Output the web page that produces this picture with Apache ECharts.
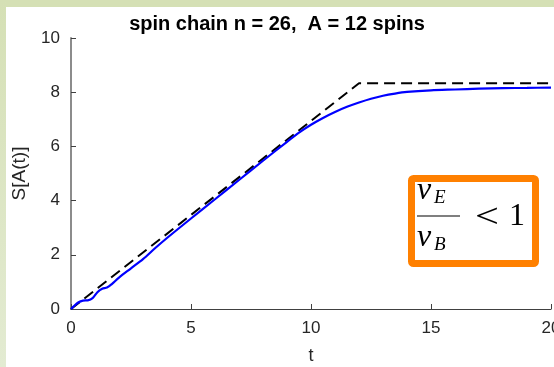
<!DOCTYPE html>
<html>
<head>
<meta charset="utf-8">
<script src="https://cdn.jsdelivr.net/npm/echarts@6/dist/echarts.min.js"></script>
<style>
  html, body { margin: 0; padding: 0; background: #ffffff; }
  #chart { width: 554px; height: 367px; }
</style>
</head>
<body>
<div id="chart"></div>
<script>
// Entanglement growth S[A(t)] for a spin chain, n = 26, subsystem A = 12 spins
const titleText = 'spin chain n = 26,  A = 12 spins';

// Simulated entropy (blue)
const tValues = [0, 0.1, 0.3, 0.5, 0.7, 0.9, 1.1, 1.3, 1.5, 1.7, 2.0, 2.5, 3.0, 3.5,
  4, 5, 6, 7, 8, 9, 9.5, 10, 10.5, 11, 11.5, 12, 12.5, 13, 13.5, 14, 15, 16, 17, 18, 19, 20];
const entropyValues = [0, 0.09, 0.24, 0.31, 0.32, 0.4, 0.62, 0.75, 0.79, 0.92, 1.16, 1.5, 1.84, 2.24,
  2.62, 3.34, 4.05, 4.76, 5.47, 6.17, 6.51, 6.8, 7.05, 7.27, 7.46, 7.62, 7.76, 7.87, 7.95, 8.01,
  8.07, 8.1, 8.13, 8.15, 8.16, 8.17];

// Linear-growth bound with saturation (dashed black)
const boundT = [0, 12, 20];
const boundS = [0, 8.33, 8.33];

// Axis settings
const xTicks = { min: 0, max: 20, interval: 5 };
const yTicks = { min: 0, max: 10, interval: 2 };

const chart = echarts.init(document.getElementById('chart'), null, { renderer: 'canvas' });

const fontSans = '"Liberation Sans", Arial, Helvetica, sans-serif';
const fontSerif = '"Liberation Serif", "DejaVu Serif", "Times New Roman", serif';

chart.setOption({
  animation: false,
  backgroundColor: '#ffffff',
  title: {
    text: titleText,
    left: 'center',
    top: 9,
    textStyle: { fontFamily: fontSans, fontSize: 20, fontWeight: 'bold', color: '#000000' }
  },
  grid: { left: 71, right: 3, top: 38, bottom: 58, containLabel: false, outerBoundsMode: 'none' },
  xAxis: {
    type: 'value',
    min: xTicks.min, max: xTicks.max, interval: xTicks.interval,
    name: 't',
    nameLocation: 'middle',
    nameGap: 38,
    nameTextStyle: { fontFamily: fontSans, fontSize: 18, color: '#262626' },
    axisLine: { show: true, lineStyle: { color: '#404040', width: 1.2 } },
    axisTick: { show: true, inside: true, length: 5, lineStyle: { color: '#404040' } },
    axisLabel: { fontFamily: fontSans, fontSize: 17, color: '#262626', margin: 11, hideOverlap: false },
    splitLine: { show: false }
  },
  yAxis: {
    type: 'value',
    min: yTicks.min, max: yTicks.max, interval: yTicks.interval,
    name: 'S[A(t)]',
    nameLocation: 'middle',
    nameGap: 42,
    nameRotate: 90,
    nameTextStyle: { fontFamily: fontSans, fontSize: 19, color: '#262626' },
    axisLine: { show: true, lineStyle: { color: '#8c8c8c', width: 2 } },
    axisTick: { show: true, inside: true, length: 5, lineStyle: { color: '#404040' } },
    axisLabel: { fontFamily: fontSans, fontSize: 17, color: '#262626', margin: 11 },
    splitLine: { show: false }
  },
  series: [
    {
      type: 'line',
      data: boundT.map((t, i) => [t, boundS[i]]),
      showSymbol: false,
      lineStyle: { color: '#000000', width: 2, type: [11, 6] },
      z: 3
    },
    {
      type: 'line',
      data: tValues.map((t, i) => [t, entropyValues[i]]),
      showSymbol: false,
      smooth: 0.3,
      lineStyle: { color: '#0000ff', width: 2.2 },
      z: 4
    }
  ],
  graphic: [
    // frame strips
    { type: 'rect', left: 0, top: 0, shape: { width: 554, height: 7 }, style: { fill: '#d5e0b5' }, z: 10 },
    {
      type: 'rect', left: 0, top: 0, shape: { width: 6, height: 367 },
      style: {
        fill: new echarts.graphic.LinearGradient(0, 0, 0, 1, [
          { offset: 0, color: '#d5e0b5' },
          { offset: 1, color: '#e3ebd2' }
        ])
      },
      z: 10
    },
    // ratio annotation box
    {
      type: 'rect',
      shape: { x: 411.5, y: 178.5, width: 124, height: 85, r: 2 },
      style: { fill: '#ffffff', stroke: '#ff8000', lineWidth: 7 },
      z: 20
    },
    { type: 'text', x: 417, y: 191, style: { text: 'v', font: 'italic 32px ' + fontSerif, fill: '#000', textAlign: 'left', textVerticalAlign: 'middle' }, z: 21 },
    { type: 'text', x: 434, y: 198, style: { text: 'E', font: 'italic 19px ' + fontSerif, fill: '#000', textAlign: 'left', textVerticalAlign: 'middle' }, z: 21 },
    { type: 'line', shape: { x1: 417, y1: 216, x2: 460, y2: 216 }, style: { stroke: '#000', lineWidth: 1.2 }, z: 21 },
    { type: 'text', x: 417, y: 238, style: { text: 'v', font: 'italic 32px ' + fontSerif, fill: '#000', textAlign: 'left', textVerticalAlign: 'middle' }, z: 21 },
    { type: 'text', x: 434, y: 245, style: { text: 'B', font: 'italic 19px ' + fontSerif, fill: '#000', textAlign: 'left', textVerticalAlign: 'middle' }, z: 21 },
    { type: 'text', x: 475, y: 218, scaleX: 1.25, style: { text: '<', font: '34px ' + fontSerif, fill: '#000', textAlign: 'left', textVerticalAlign: 'middle' }, z: 21 },
    { type: 'text', x: 509, y: 217, style: { text: '1', font: '32px ' + fontSerif, fill: '#000', textAlign: 'left', textVerticalAlign: 'middle' }, z: 21 }
  ]
});
</script>
</body>
</html>
